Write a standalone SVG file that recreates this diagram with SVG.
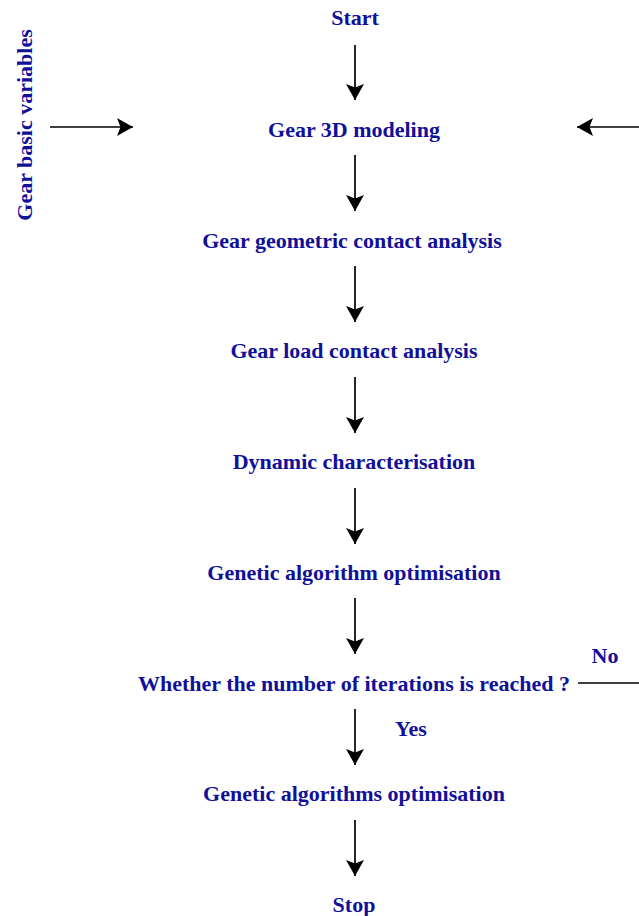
<svg xmlns="http://www.w3.org/2000/svg" width="639" height="916" viewBox="0 0 639 916">
  <defs>
    <marker id="arrow" viewBox="0 0 16 18" refX="16" refY="9" markerWidth="16" markerHeight="18" markerUnits="userSpaceOnUse" orient="auto">
      <path d="M0,0 L16,9 L0,18 L3.5,9 Z" fill="#000"/>
    </marker>
    <style>
      .lbl { font-family: "Liberation Serif", "Times New Roman", serif; font-weight: bold; font-size: 22px; fill: #10109a; text-anchor: middle; }
      .edge { stroke: #000; stroke-width: 1.7; fill: none; }
    </style>
  </defs>
  <rect width="639" height="916" fill="#fff"/>

  <g id="connectors">
    <line class="edge" x1="355" y1="45" x2="355" y2="100" marker-end="url(#arrow)"/>
    <line class="edge" x1="355" y1="155" x2="355" y2="211" marker-end="url(#arrow)"/>
    <line class="edge" x1="355" y1="266" x2="355" y2="322" marker-end="url(#arrow)"/>
    <line class="edge" x1="355" y1="377" x2="355" y2="433" marker-end="url(#arrow)"/>
    <line class="edge" x1="355" y1="488" x2="355" y2="544" marker-end="url(#arrow)"/>
    <line class="edge" x1="355" y1="598" x2="355" y2="654" marker-end="url(#arrow)"/>
    <line class="edge" x1="355" y1="709" x2="355" y2="765" marker-end="url(#arrow)"/>
    <line class="edge" x1="355" y1="820" x2="355" y2="876" marker-end="url(#arrow)"/>
    <line class="edge" x1="50" y1="127" x2="133" y2="127" marker-end="url(#arrow)"/>
    <line class="edge" x1="639" y1="127" x2="577" y2="127" marker-end="url(#arrow)"/>
    <line class="edge" x1="578" y1="683" x2="639" y2="683"/>
    <text class="lbl" x="605" y="663">No</text>
    <text class="lbl" x="411" y="736">Yes</text>
  </g>

  <g id="start"><text class="lbl" x="355" y="25">Start</text></g>
  <g id="inputs"><text class="lbl" transform="translate(32,125) rotate(-90)">Gear basic variables</text></g>
  <g id="modeling"><text class="lbl" x="354" y="137">Gear 3D modeling</text></g>
  <g id="geometric"><text class="lbl" x="352" y="248">Gear geometric contact analysis</text></g>
  <g id="load"><text class="lbl" x="354" y="358">Gear load contact analysis</text></g>
  <g id="dynamic"><text class="lbl" x="354" y="469">Dynamic characterisation</text></g>
  <g id="ga"><text class="lbl" x="354" y="580">Genetic algorithm optimisation</text></g>
  <g id="check"><text class="lbl" x="354" y="691">Whether the number of iterations is reached ?</text></g>
  <g id="ga-final"><text class="lbl" x="354" y="801">Genetic algorithms optimisation</text></g>
  <g id="stop"><text class="lbl" x="354" y="912">Stop</text></g>
</svg>
